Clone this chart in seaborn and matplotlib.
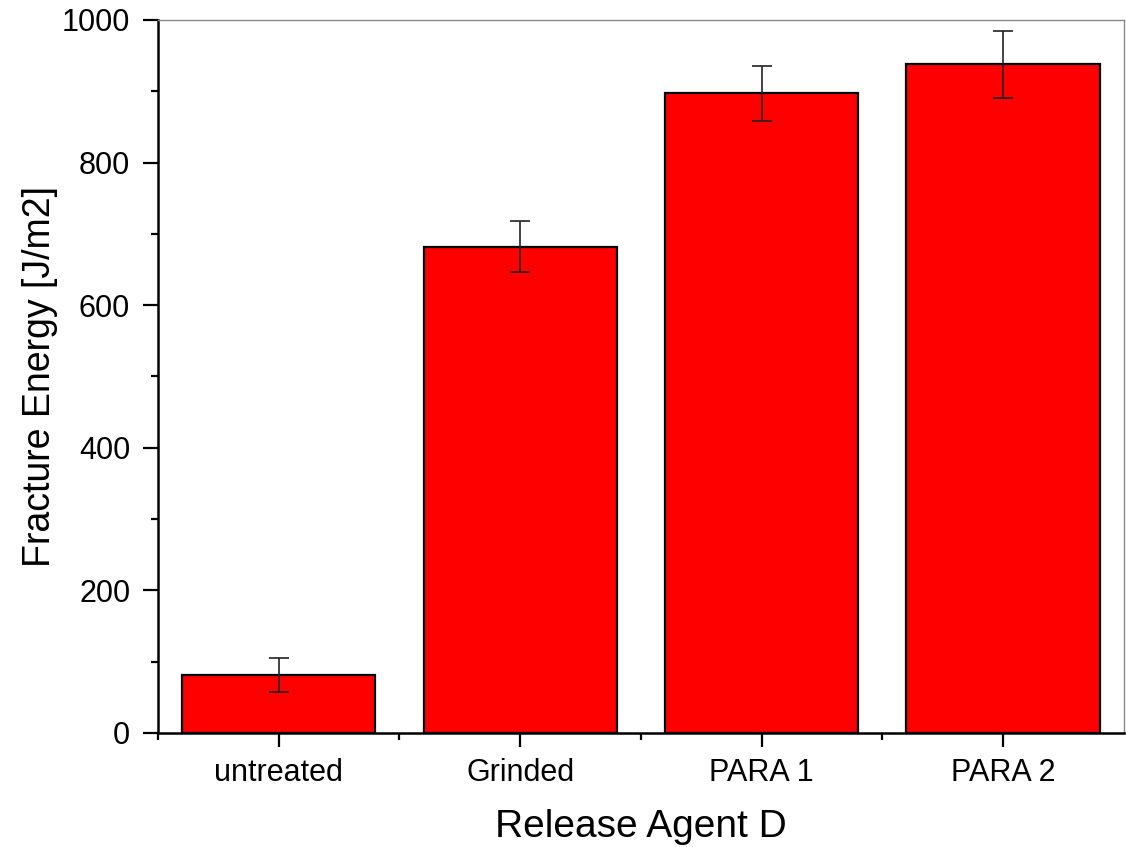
import numpy as np
import pandas as pd
import seaborn as sns
import matplotlib.pyplot as plt
from matplotlib.ticker import MultipleLocator, FixedLocator

# %%
categories = ["untreated", "Grinded", "PARA 1", "PARA 2"]
energy = [81, 682, 897, 938]
energy_err = [24, 36, 38, 47]

df = pd.DataFrame({"agent": categories, "energy": energy, "err": energy_err})

# %%
sns.set_style("ticks")
plt.rcParams["font.family"] = ["Liberation Sans", "DejaVu Sans"]
plt.rcParams["text.color"] = "black"
plt.rcParams["axes.labelcolor"] = "black"
plt.rcParams["xtick.color"] = "black"
plt.rcParams["ytick.color"] = "black"

fig = plt.figure(figsize=(11.26, 8.47), dpi=100)
ax = fig.add_axes([0.1403, 0.1346, 0.8577, 0.8418])

sns.barplot(data=df, x="agent", y="energy", color="#ff0000", saturation=1,
            edgecolor="black", linewidth=1.6, width=0.8, errorbar=None, ax=ax)
ax.errorbar(np.arange(len(categories)), df["energy"], yerr=df["err"], fmt="none",
            ecolor="#222222", elinewidth=1.2, capsize=7, capthick=1.2)

ax.set_xlim(-0.5, 3.5)
ax.set_ylim(0, 1000)
ax.yaxis.set_major_locator(MultipleLocator(200))
ax.yaxis.set_minor_locator(MultipleLocator(100))
ax.xaxis.set_minor_locator(FixedLocator([-0.5, 0.5, 1.5, 2.5]))

ax.set_xlabel("Release Agent D", fontsize=28, labelpad=15)
ax.set_ylabel("Fracture Energy [J/m2]", fontsize=27, labelpad=3)
ax.tick_params(axis="both", which="major", labelsize=22, width=1.6, color="black",
               labelcolor="black")
ax.tick_params(axis="y", which="major", length=11, pad=9)
ax.tick_params(axis="x", which="major", length=10, pad=8)
ax.tick_params(axis="both", which="minor", length=5, width=1.6)

for side in ["left", "bottom"]:
    ax.spines[side].set_linewidth(1.8)
    ax.spines[side].set_color("black")
for side in ["top", "right"]:
    ax.spines[side].set_visible(True)
    ax.spines[side].set_linewidth(1.0)
    ax.spines[side].set_color("#888888")

plt.savefig("out.png", dpi=100)
